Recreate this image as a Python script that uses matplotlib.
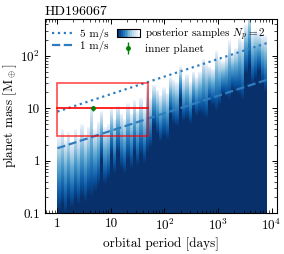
import numpy as np
import matplotlib
matplotlib.use("Agg")
import matplotlib.pyplot as plt
from matplotlib.patches import Rectangle
from matplotlib.legend_handler import HandlerBase
from matplotlib.lines import Line2D

plt.rcParams.update({
    "font.family":              "serif",
    "font.serif":               ["cmr10", "DejaVu Serif"],
    "mathtext.fontset":         "cm",
    "axes.formatter.use_mathtext": True,
    "axes.unicode_minus":       False,
    "font.size":                9.5,
    "xtick.labelsize":          9.5,
    "ytick.labelsize":          9.5,
    "xtick.direction":          "in",
    "ytick.direction":          "in",
    "xtick.top":                True,
    "ytick.right":              True,
    "axes.linewidth":           0.8,
})

# ── Data ─────────────────────────────────────────────────────────────────────
# per period bin (log10 P from 0 to 3.92): log10 mass where samples fade out
# (top) and log10 mass below which the column is fully dark
logp_lo, logp_hi = 0.0, 3.92
top_logm = [0.45, 0.60, 0.40, 0.55, 0.35, 0.60, 0.45, 0.70, 0.50, 0.65,
            1.05, 0.60, 0.75, 0.95, 0.65, 0.70, 1.00, 0.80, 1.05, 0.90,
            0.80, 1.10, 0.90, 1.15, 0.95, 1.20, 1.00, 1.45, 1.20, 1.45,
            1.35, 1.25, 1.40, 1.30, 1.60, 1.55, 1.50, 1.80, 1.55, 1.65,
            1.50, 1.70, 1.60, 1.70, 1.95, 1.85, 1.80, 1.75, 2.10, 1.95,
            1.90, 2.00, 2.30, 2.05, 2.15, 2.35, 2.30, 2.60, 2.85, 2.45,
            2.50, 2.45, 2.40, 2.40]
dark_logm = [-0.95, -0.85, -1.00, -0.80, -0.90, -0.75, -0.85, -0.70, -0.80, -0.65,
             -0.70, -0.60, -0.50, 0.00, -0.45, -0.35, 0.10, -0.25, 0.15, -0.15,
             -0.25, 0.00, -0.15, 0.15, -0.10, 0.10, -0.05, 0.15, 0.25, 0.65,
             0.50, 0.35, 0.45, 0.40, 0.85, 0.70, 0.65, 1.15, 0.75, 0.80,
             0.70, 0.95, 0.85, 0.90, 0.85, 0.80, 1.10, 1.05, 0.95, 1.05,
             1.25, 1.20, 1.15, 1.35, 1.30, 1.25, 1.15, 1.65, 1.80, 1.45,
             1.55, 1.70, 1.45, 1.30]

# RV semi-amplitude limits (end points of the lines)
rv_period = [1.0, 8300.0]
mass_5ms = [8.6, 175.0]
mass_1ms = [1.72, 35.0]

# inner planet and its box
planet_period = 4.6
planet_mass = 10.0
planet_err = 1.2
box_period = [1.0, 50.0]
box_mass = [3.0, 30.0]

xticks = [1, 10, 100, 1000, 10000]
xticklabels = ["1", "10", r"$10^2$", r"$10^3$", r"$10^4$"]
yticks = [0.1, 1, 10, 100]
yticklabels = ["0.1", "1", "10", r"$10^2$"]

LINE_C = "#2f7dbf"


# ── Gradient legend handle ───────────────────────────────────────────────────
class GradientHandler(HandlerBase):
    def create_artists(self, legend, orig_handle, xdescent, ydescent,
                       width, height, fontsize, trans):
        n = 12
        cmap = plt.get_cmap("Blues")
        arts = []
        for i in range(n):
            arts.append(Rectangle((-xdescent + width * i / n, -ydescent),
                                  width / n, height,
                                  facecolor=cmap(1 - i / (n - 1)),
                                  edgecolor="none", transform=trans))
        arts.append(Rectangle((-xdescent, -ydescent), width, height,
                              facecolor="none", edgecolor="black", lw=0.8,
                              transform=trans))
        return arts


fig = plt.figure(figsize=(2.84, 2.54), dpi=100)
ax = fig.add_axes([0.158, 0.161, 0.817, 0.764])

# ── Posterior samples ────────────────────────────────────────────────────────
nbin = len(top_logm)
p_edges = np.logspace(logp_lo, logp_hi, nbin + 1)
m_edges = np.logspace(-1, 2.8, 200)
m_mid = np.log10(np.sqrt(m_edges[:-1] * m_edges[1:]))
top = np.array(top_logm)[None, :]
dark = np.array(dark_logm)[None, :]
frac = np.clip((top - m_mid[:, None]) / (top - dark), 0, 1) ** 0.7
frac = np.ma.masked_less_equal(frac, 0.0)
ax.pcolormesh(p_edges, m_edges, frac, cmap="Blues", vmin=0, vmax=1,
              shading="flat", rasterized=True, zorder=1)

# ── RV limits ────────────────────────────────────────────────────────────────
ax.plot(rv_period, mass_5ms, ls=":", color=LINE_C, lw=1.6, zorder=3)
ax.plot(rv_period, mass_1ms, ls="--", color=LINE_C, lw=1.6, zorder=3)

# ── Inner planet box ─────────────────────────────────────────────────────────
ax.add_patch(Rectangle((box_period[0], box_mass[0]),
                       box_period[1] - box_period[0], box_mass[1] - box_mass[0],
                       facecolor="none", edgecolor="red", lw=1.2, alpha=0.7,
                       zorder=4))
ax.plot(box_period, [planet_mass, planet_mass], color="red", lw=1.2, zorder=4)
ax.errorbar(planet_period, planet_mass, yerr=planet_err, fmt="o", ms=2.5,
            color="green", elinewidth=1.0, capsize=0, zorder=5)

ax.set_xscale("log")
ax.set_yscale("log")
ax.set_xlim(0.584, 12600)
ax.set_ylim(0.1, 500)
ax.set_xticks(xticks, xticklabels)
ax.set_yticks(yticks, yticklabels)
ax.tick_params(which="major", length=3.5, width=0.7)
ax.tick_params(which="minor", length=2, width=0.5)
ax.set_xlabel("orbital period [days]", labelpad=3)
ax.set_ylabel(r"planet mass [M$_\oplus$]", labelpad=1)
ax.set_title("HD196067", loc="left", fontsize=10, pad=3)

handles = [
    Line2D([], [], ls=":", color=LINE_C, lw=1.6),
    Line2D([], [], ls="--", color=LINE_C, lw=1.6),
    Rectangle((0, 0), 1, 1),
    ax.errorbar([], [], yerr=[], fmt="o", ms=2.5, color="green",
                elinewidth=1.0, capsize=0),
]
labels = ["5 m/s", "1 m/s", r"posterior samples $N_p = 2$", "inner planet"]
ax.legend(handles, labels, ncol=2, loc="upper left", frameon=False,
          fontsize=8, handlelength=2.0, columnspacing=0.8,
          handletextpad=0.5, labelspacing=0.1, borderaxespad=0.25,
          handler_map={Rectangle: GradientHandler()})

fig.savefig("out.png", dpi=100)
